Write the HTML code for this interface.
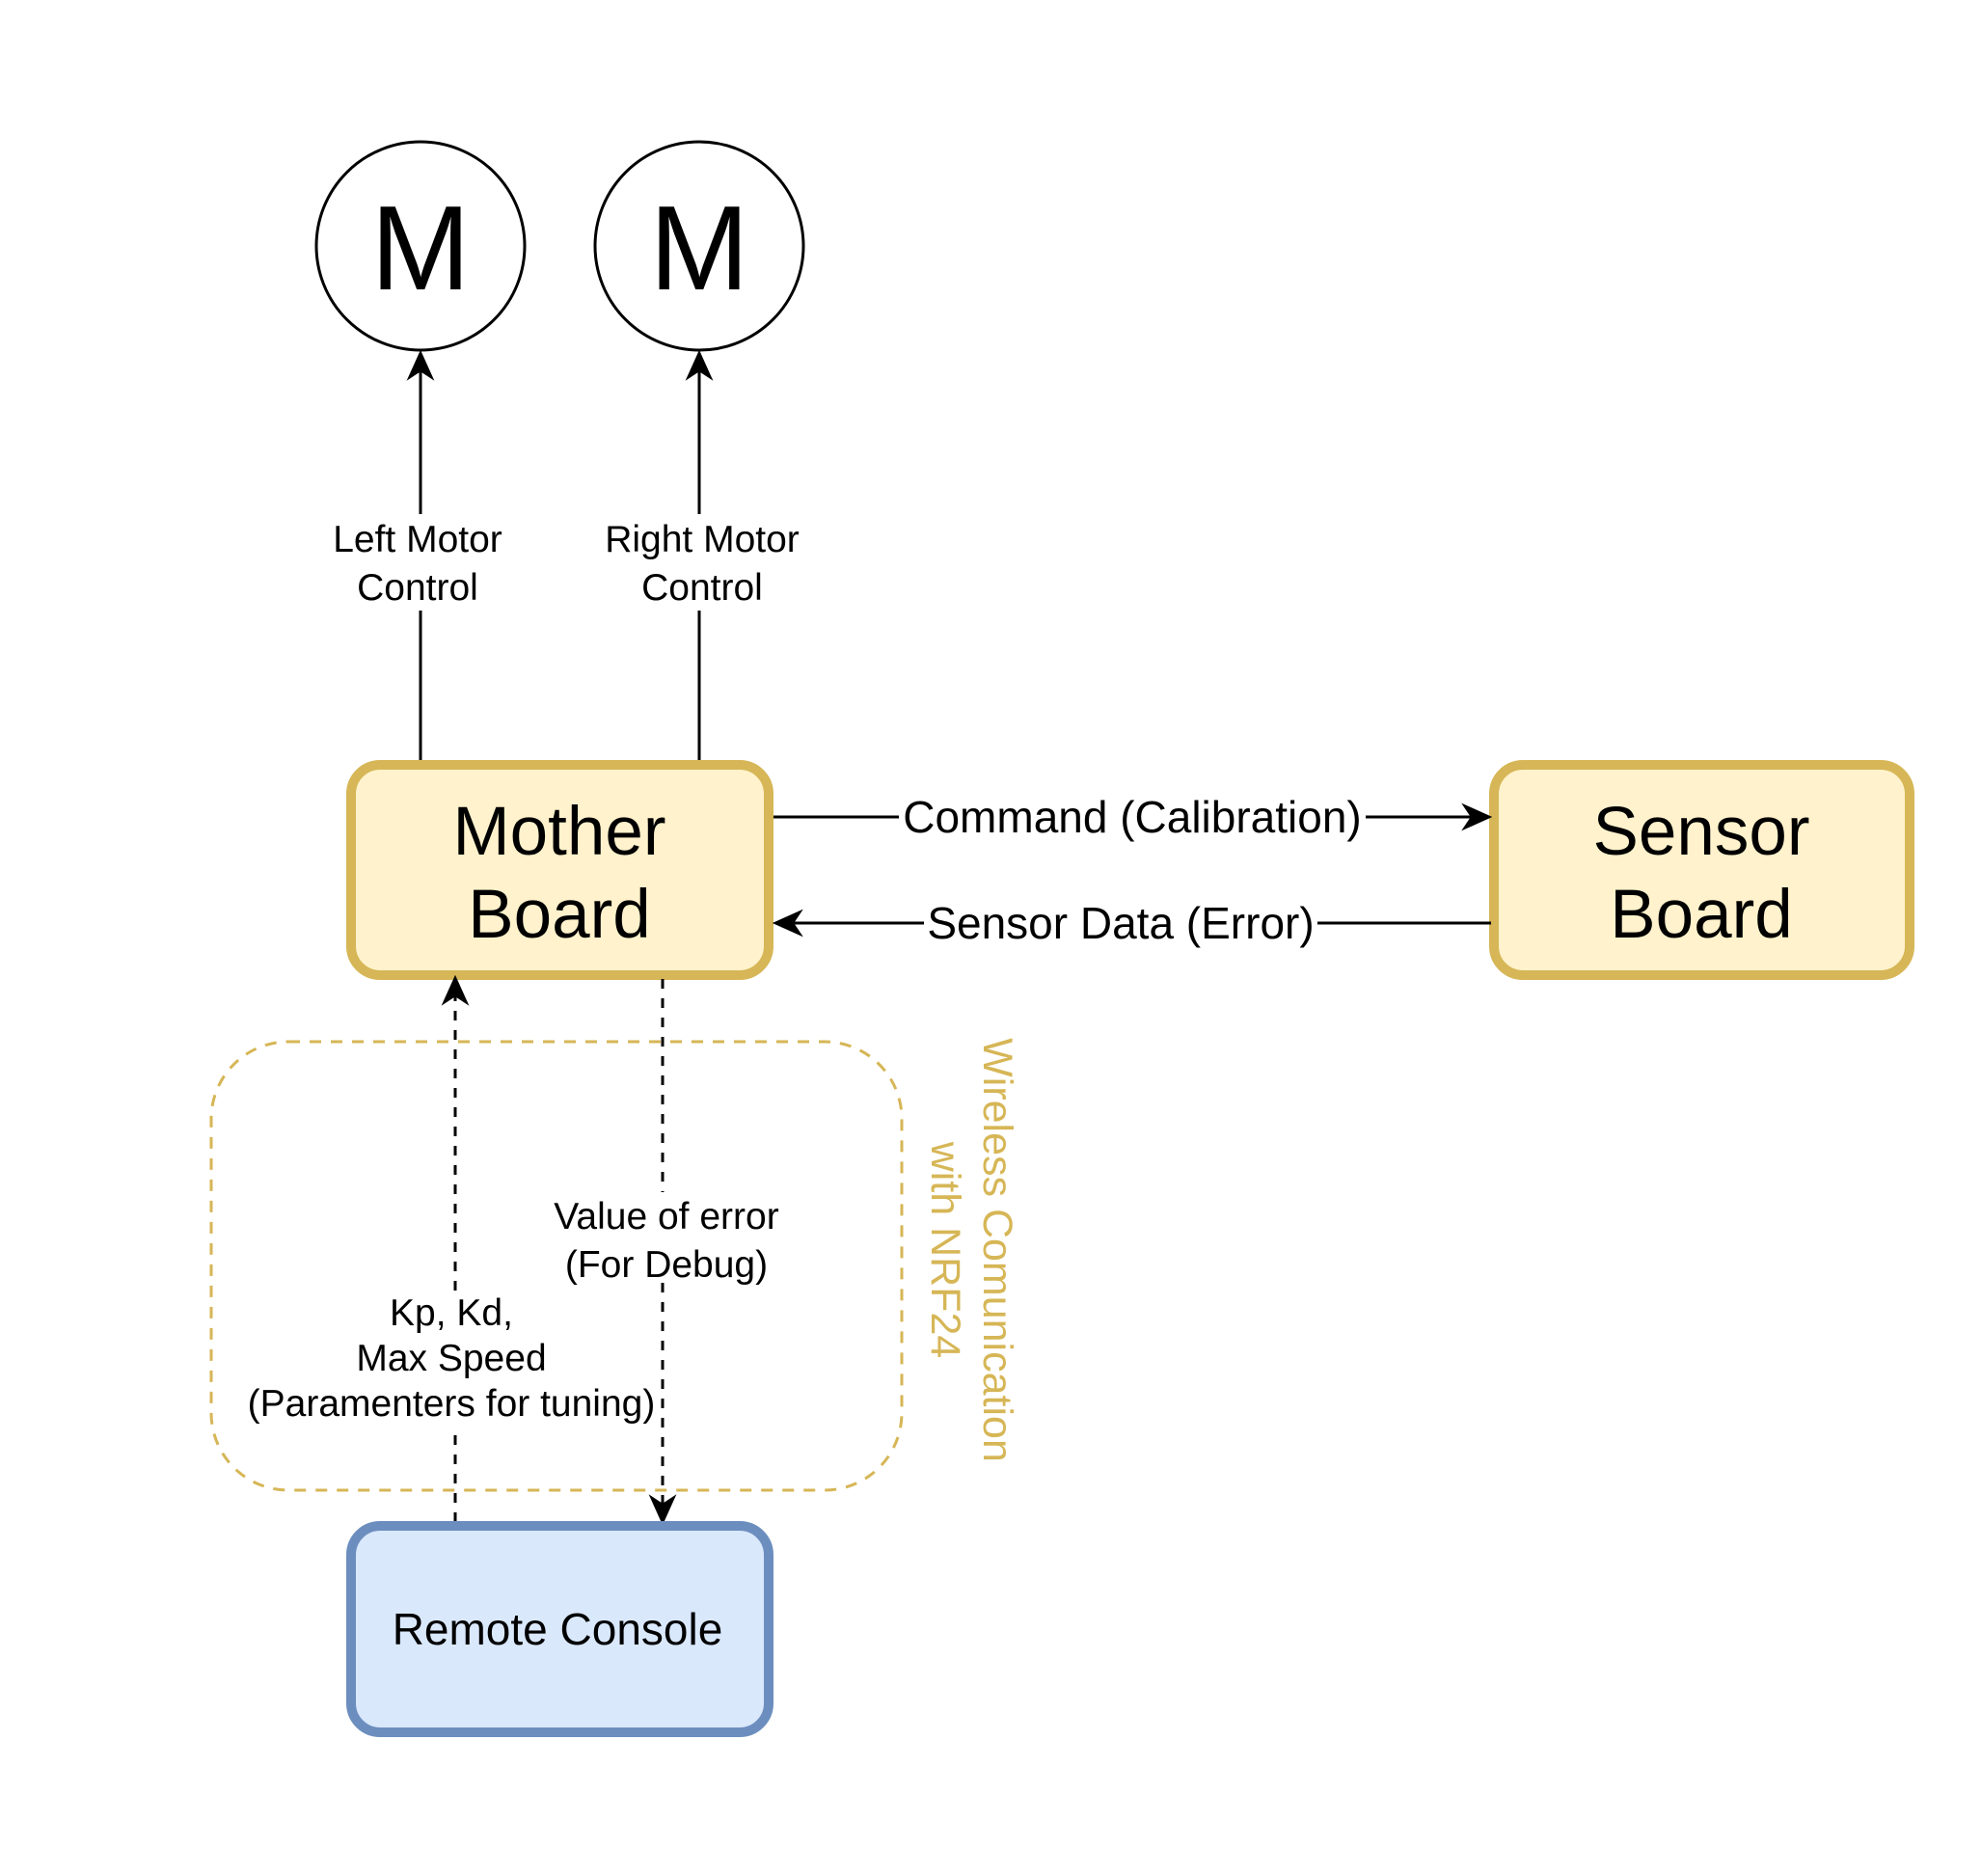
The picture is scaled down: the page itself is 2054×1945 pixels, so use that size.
<!DOCTYPE html>
<html><head><meta charset="utf-8"><style>
html,body{margin:0;padding:0;background:#fff;}
svg{display:block;}
text{font-family:"Liberation Sans",Arial,sans-serif;}
</style></head><body>
<svg width="2054" height="1945" viewBox="0 0 2054 1945" xmlns="http://www.w3.org/2000/svg">
<defs>
<marker id="ah" viewBox="0 0 20 20" refX="18" refY="10" markerWidth="32" markerHeight="32" markerUnits="userSpaceOnUse" orient="auto">
<path d="M0,1 L20,10 L0,19 L6,10 Z" fill="#000"/>
</marker>
</defs>
<rect width="2054" height="1945" fill="#fff"/>
<g transform="translate(-4,-4)">
<!-- motors -->
<circle cx="440" cy="259" r="108" fill="#fff" stroke="#000" stroke-width="3"/>
<circle cx="729" cy="259" r="108" fill="#fff" stroke="#000" stroke-width="3"/>
<text x="440" y="304" font-size="124" text-anchor="middle">M</text>
<text x="729" y="304" font-size="124" text-anchor="middle">M</text>
<!-- motor control lines -->
<line x1="440" y1="792" x2="440" y2="637" stroke="#000" stroke-width="3"/>
<line x1="440" y1="537" x2="440" y2="370" stroke="#000" stroke-width="3" marker-end="url(#ah)"/>
<line x1="729" y1="792" x2="729" y2="637" stroke="#000" stroke-width="3"/>
<line x1="729" y1="537" x2="729" y2="370" stroke="#000" stroke-width="3" marker-end="url(#ah)"/>
<text x="437" y="576" font-size="39" text-anchor="middle">Left Motor</text>
<text x="437" y="626" font-size="39" text-anchor="middle">Control</text>
<text x="732" y="576" font-size="39" text-anchor="middle">Right Motor</text>
<text x="732" y="626" font-size="39" text-anchor="middle">Control</text>
<!-- wireless dashed box -->
<rect x="223" y="1084" width="716" height="465" rx="80" ry="80" fill="none" stroke="#d6b656" stroke-width="3" stroke-dasharray="12 10"/>
<text transform="translate(1024,1300) rotate(90)" font-size="43" fill="#d6b656" text-anchor="middle">Wireless Comunication</text>
<text transform="translate(970,1300) rotate(90)" font-size="43" fill="#d6b656" text-anchor="middle">with NRF24</text>
<!-- boards -->
<rect x="368" y="797" width="433" height="218" rx="30" ry="30" fill="#fff2cc" stroke="#d6b656" stroke-width="10"/>
<text x="584" y="890" font-size="71" text-anchor="middle">Mother</text>
<text x="584" y="976" font-size="71" text-anchor="middle">Board</text>
<rect x="1553" y="797" width="431" height="218" rx="30" ry="30" fill="#fff2cc" stroke="#d6b656" stroke-width="10"/>
<text x="1768" y="890" font-size="71" text-anchor="middle">Sensor</text>
<text x="1768" y="976" font-size="71" text-anchor="middle">Board</text>
<!-- horizontal connectors -->
<line x1="806" y1="851" x2="1548" y2="851" stroke="#000" stroke-width="3" marker-end="url(#ah)"/>
<rect x="936" y="824" width="484" height="54" fill="#fff"/>
<text x="1178" y="867" font-size="46" text-anchor="middle">Command (Calibration)</text>
<line x1="1550" y1="961" x2="808" y2="961" stroke="#000" stroke-width="3" marker-end="url(#ah)"/>
<rect x="962" y="934" width="408" height="54" fill="#fff"/>
<text x="1166" y="977" font-size="46" text-anchor="middle">Sensor Data (Error)</text>
<!-- dashed vertical connectors -->
<line x1="476" y1="1582" x2="476" y2="1482" stroke="#000" stroke-width="3" stroke-dasharray="10 10"/>
<line x1="476" y1="1342" x2="476" y2="1018" stroke="#000" stroke-width="3" stroke-dasharray="10 10" marker-end="url(#ah)"/>
<line x1="691" y1="1019" x2="691" y2="1240" stroke="#000" stroke-width="3" stroke-dasharray="10 10"/>
<line x1="691" y1="1334" x2="691" y2="1582" stroke="#000" stroke-width="3" stroke-dasharray="10 10" marker-end="url(#ah)"/>
<text x="695" y="1278" font-size="39" text-anchor="middle">Value of error</text>
<text x="695" y="1328" font-size="39" text-anchor="middle">(For Debug)</text>
<text x="472" y="1378" font-size="39" text-anchor="middle">Kp, Kd,</text>
<text x="472" y="1425" font-size="39" text-anchor="middle">Max Speed</text>
<text x="472" y="1472" font-size="39" text-anchor="middle">(Paramenters for tuning)</text>
<!-- remote console -->
<rect x="368" y="1586" width="433" height="214" rx="30" ry="30" fill="#dae8fc" stroke="#6c8ebf" stroke-width="10"/>
<text x="582" y="1709" font-size="46" text-anchor="middle">Remote Console</text>
</g>
</svg>
</body></html>
